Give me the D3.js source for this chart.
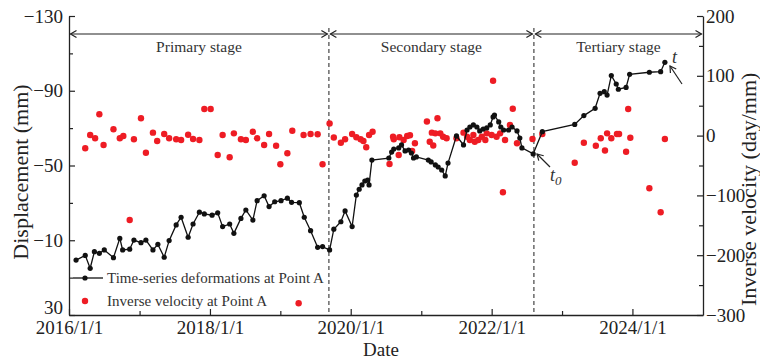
<!DOCTYPE html>
<head>
  <meta charset="utf-8">
  <script src="https://d3js.org/d3.v7.min.js"></script>
  <style>
    body { margin: 0; background: #fff; }
    svg { width: 760px; height: 360px; font-family: "Liberation Serif", "Times New Roman", serif; }
  </style>
</head>
<body>
  <svg></svg>
  <script>
    // time-series deformation at point A (decimal year, mm)
    var dispDates = [2016.10, 2016.23, 2016.30, 2016.36, 2016.43, 2016.50, 2016.63, 2016.72, 2016.76, 2016.86,
      2016.92, 2017.02, 2017.09, 2017.19, 2017.26, 2017.35, 2017.42, 2017.52, 2017.59, 2017.69,
      2017.76, 2017.85, 2017.92, 2018.03, 2018.11, 2018.18, 2018.28, 2018.34, 2018.44, 2018.51,
      2018.61, 2018.67, 2018.77, 2018.84, 2018.92, 2019.01, 2019.10, 2019.16, 2019.27, 2019.34,
      2019.43, 2019.53, 2019.60, 2019.70, 2019.76, 2019.86, 2019.92, 2020.02, 2020.08, 2020.12,
      2020.16, 2020.20, 2020.24, 2020.26, 2020.30, 2020.54, 2020.58, 2020.61, 2020.68, 2020.72,
      2020.77, 2020.82, 2020.86, 2020.89, 2020.93, 2021.10, 2021.14, 2021.20, 2021.24, 2021.29,
      2021.34, 2021.38, 2021.50, 2021.60, 2021.65, 2021.69, 2021.74, 2021.79, 2021.83, 2021.88,
      2021.93, 2021.98, 2022.02, 2022.04, 2022.10, 2022.13, 2022.17, 2022.24, 2022.29, 2022.36,
      2022.40, 2022.43, 2022.59, 2022.72, 2023.18, 2023.31, 2023.47, 2023.54, 2023.60, 2023.64,
      2023.70, 2023.77, 2023.80, 2023.91, 2023.96, 2024.24, 2024.40, 2024.46];
    var dispValues = [0.6, -1.9, 5.0, -3.9, -3.0, -4.8, -0.7, -11.0, -4.8, -5.2,
      -10.1, -8.7, -10.1, -4.8, -7.8, -0.9, -9.8, -18.2, -22.3, -11.6,
      -18.7, -25.0, -24.1, -23.4, -24.7, -17.3, -18.7, -13.7, -21.7, -26.2,
      -20.8, -31.2, -33.8, -28.0, -30.6, -31.2, -32.5, -30.3, -30.1, -22.3,
      -15.1, -6.2, -6.6, -4.8, -15.9, -19.9, -25.7, -17.3, -34.2, -37.3,
      -39.6, -41.7, -42.2, -39.6, -52.9, -54.0, -57.2, -58.8, -59.4, -61.0,
      -57.8, -58.3, -56.7, -54.0, -54.6, -52.9, -51.9, -50.3, -49.2, -47.6,
      -44.4, -51.3, -65.8, -61.0, -69.0, -70.6, -71.7, -70.6, -68.5, -69.5,
      -70.1, -71.7, -76.0, -77.0, -73.3, -70.6, -69.0, -69.0, -70.6, -68.5,
      -64.7, -59.4, -56.2, -68.1, -72.0, -76.7, -80.6, -88.6, -89.5, -87.7,
      -98.1, -93.6, -90.8, -91.8, -98.8, -99.9, -100.2, -105.2];

    // inverse velocity at point A (decimal year, day/mm)
    var velDates = [2016.23, 2016.30, 2016.37, 2016.43, 2016.49, 2016.63, 2016.72, 2016.77, 2016.86, 2016.92,
      2017.02, 2017.09, 2017.19, 2017.25, 2017.35, 2017.42, 2017.52, 2017.59, 2017.69, 2017.76,
      2017.85, 2017.92, 2018.01, 2018.11, 2018.18, 2018.28, 2018.34, 2018.44, 2018.51, 2018.61,
      2018.67, 2018.77, 2018.84, 2018.94, 2019.00, 2019.10, 2019.17, 2019.26, 2019.33, 2019.43,
      2019.53, 2019.60, 2019.70, 2019.76, 2019.86, 2019.92, 2020.02, 2020.08, 2020.14, 2020.18,
      2020.22, 2020.26, 2020.31, 2020.55, 2020.60, 2020.61, 2020.68, 2020.69, 2020.75, 2020.80,
      2020.84, 2020.87, 2020.91, 2021.08, 2021.12, 2021.15, 2021.17, 2021.20, 2021.23, 2021.27,
      2021.31, 2021.36, 2021.50, 2021.60, 2021.65, 2021.69, 2021.74, 2021.76, 2021.81, 2021.86,
      2021.91, 2021.93, 2022.00, 2022.02, 2022.07, 2022.12, 2022.16, 2022.19, 2022.26, 2022.30,
      2022.36, 2022.58, 2022.72, 2023.18, 2023.31, 2023.48, 2023.55, 2023.61, 2023.64, 2023.70,
      2023.78, 2023.81, 2023.91, 2023.94, 2023.97, 2024.24, 2024.40, 2024.46];
    var velValues = [-21.2, 1.0, -4.5, 35.6, -15.7, 10.5, -4.5, -0.7, -141.1, -6.2,
      28.9, -28.6, 4.9, -9.0, 2.7, -4.5, -6.2, -7.4, 1.5, -5.7,
      -7.4, 44.5, 44.5, -32.4, 1.0, -36.3, 3.8, -6.2, -7.4, 6.5,
      -4.5, -15.7, 2.7, -16.9, -48.0, -29.6, 8.2, -280.4, 1.0, 2.7,
      2.2, -48.0, 20.2, -3.2, -11.9, -6.2, 2.7, -2.8, -6.2, -9.0,
      -19.6, 1.0, 6.5, -47.5, -1.8, -6.2, -32.4, -2.8, -7.4, -0.7,
      0.5, -25.7, -12.9, 23.6, -10.2, 4.9, -16.6, 3.8, 28.9, 3.8,
      -1.8, -4.5, -4.5, 4.9, -1.8, -7.4, 1.0, -10.2, -7.4, -1.8,
      -7.4, 3.8, 1.0, 91.8, -1.8, 3.8, -94.8, -7.4, 17.7, 44.8,
      -12.9, -5.7, 2.7, -45.3, -11.9, -16.9, -4.5, -24.9, 3.8, -4.5,
      2.7, 2.7, -26.9, 44.5, -3.5, -88.1, -128.3, -5.7];

    var stageNames = ['Primary stage', 'Secondary stage', 'Tertiary stage'];
    var stageBounds = [2016.0, 2019.69, 2022.60, 2025.0];
    var xTickYears = [2016, 2018, 2020, 2022, 2024];
    var xTickLabels = ['2016/1/1', '2018/1/1', '2020/1/1', '2022/1/1', '2024/1/1'];
    var xMinorYears = [2017, 2019, 2021, 2023];
    var leftTicks = [-130, -90, -50, -10, 30];
    var leftMinor = [-110, -70, -30, 10];
    var rightTicks = [200, 100, 0, -100, -200, -300];
    var rightMinor = [150, 50, -50, -150, -250];

    function dec(y) {
      var yr = Math.floor(y);
      var a = new Date(yr, 0, 1), b = new Date(yr + 1, 0, 1);
      return new Date(+a + (y - yr) * (b - a));
    }

    var red = '#ee1c24';
    var svg = d3.select('svg');

    var x = d3.scaleTime().domain([dec(2016), dec(2025)]).range([69, 703]);
    var yL = d3.scaleLinear().domain([-130, 30]).range([16, 315]);
    var yR = d3.scaleLinear().domain([200, -300]).range([16, 315]);

    var defs = svg.append('defs');
    defs.append('marker').attr('id', 'head')
      .attr('viewBox', '-8 -5 10 10').attr('markerWidth', 10).attr('markerHeight', 10)
      .attr('markerUnits', 'userSpaceOnUse').attr('orient', 'auto-start-reverse')
      .append('path').attr('d', 'M-6,-3.5L0,0L-6,3.5')
      .attr('fill', 'none').attr('stroke', '#222').attr('stroke-width', 1.2);

    // axes
    function styleAxis(g, size) {
      g.selectAll('.domain').attr('stroke', '#222').attr('stroke-width', 1.3);
      g.selectAll('.tick line').attr('stroke', '#222').attr('stroke-width', 1.2);
      g.selectAll('text').attr('font-family', '"Liberation Serif", serif')
        .attr('font-size', size).attr('fill', '#222');
    }

    var gx = svg.append('g').attr('transform', 'translate(0,315)')
      .call(d3.axisBottom(x).tickValues(xTickYears.map(dec))
        .tickFormat(function(d, i) { return xTickLabels[i]; })
        .tickSizeInner(-6).tickSizeOuter(0).tickPadding(6));
    styleAxis(gx, 19);
    svg.append('g').attr('transform', 'translate(0,315)')
      .call(d3.axisBottom(x).tickValues(xMinorYears.map(dec)).tickFormat('')
        .tickSizeInner(-4).tickSizeOuter(0))
      .call(function(g) { g.select('.domain').remove(); styleAxis(g, 0); });

    var gl = svg.append('g').attr('transform', 'translate(69,0)')
      .call(d3.axisLeft(yL).tickValues(leftTicks).tickSizeInner(-6).tickSizeOuter(0).tickPadding(6));
    styleAxis(gl, 19);
    gl.selectAll('.tick text').attr('dy', function(d) { return d === 30 ? '-0.1em' : '0.32em'; });
    svg.append('g').attr('transform', 'translate(69,0)')
      .call(d3.axisLeft(yL).tickValues(leftMinor).tickFormat('').tickSizeInner(-4).tickSizeOuter(0))
      .call(function(g) { g.select('.domain').remove(); styleAxis(g, 0); });

    var gr = svg.append('g').attr('transform', 'translate(703,0)')
      .call(d3.axisRight(yR).tickValues(rightTicks).tickSizeInner(-6).tickSizeOuter(0).tickPadding(3));
    styleAxis(gr, 19);
    svg.append('g').attr('transform', 'translate(703,0)')
      .call(d3.axisRight(yR).tickValues(rightMinor).tickFormat('').tickSizeInner(-4).tickSizeOuter(0))
      .call(function(g) { g.select('.domain').remove(); styleAxis(g, 0); });

    // axis titles
    svg.append('text').attr('transform', 'translate(28,172)rotate(-90)')
      .attr('text-anchor', 'middle').attr('font-size', 22).attr('fill', '#222')
      .text('Displacement (mm)');
    svg.append('text').attr('transform', 'translate(740,306)rotate(-90)')
      .attr('text-anchor', 'start').attr('dy', '0.72em').attr('font-size', 22).attr('fill', '#222')
      .text('Inverse velocity (day/mm)');
    svg.append('text').attr('x', 381).attr('y', 355.5)
      .attr('text-anchor', 'middle').attr('font-size', 19).attr('fill', '#222')
      .text('Date');

    // stage separators and arrows
    svg.selectAll('line.sep').data(stageBounds.slice(1, 3)).enter().append('line')
      .attr('class', 'sep')
      .attr('x1', function(d) { return x(dec(d)); }).attr('x2', function(d) { return x(dec(d)); })
      .attr('y1', 28).attr('y2', 315)
      .attr('stroke', '#444').attr('stroke-width', 1.2).attr('stroke-dasharray', '4,3');

    var stages = stageNames.map(function(n, i) {
      return { name: n, a: stageBounds[i], b: stageBounds[i + 1] };
    });
    svg.selectAll('line.stage').data(stages).enter().append('line')
      .attr('class', 'stage')
      .attr('x1', function(d) { return x(dec(d.a)) + 1.5; })
      .attr('x2', function(d) { return x(dec(d.b)) - 1.5; })
      .attr('y1', 34).attr('y2', 34)
      .attr('stroke', '#222').attr('stroke-width', 1.2)
      .attr('marker-start', 'url(#head)').attr('marker-end', 'url(#head)');
    svg.selectAll('text.stage').data(stages).enter().append('text')
      .attr('class', 'stage')
      .attr('x', function(d) { return (x(dec(d.a)) + x(dec(d.b))) / 2; })
      .attr('y', 52).attr('text-anchor', 'middle')
      .attr('font-size', 15.5).attr('fill', '#333')
      .text(function(d) { return d.name; });

    // inverse velocity points
    var velData = velDates.map(function(d, i) { return { date: dec(d), v: velValues[i] }; });
    svg.append('g').selectAll('circle').data(velData).enter().append('circle')
      .attr('cx', function(d) { return x(d.date); })
      .attr('cy', function(d) { return yR(d.v); })
      .attr('r', 3.2).attr('fill', red);

    // deformation line
    var dispData = dispDates.map(function(d, i) { return { date: dec(d), v: dispValues[i] }; });
    svg.append('path').datum(dispData)
      .attr('fill', 'none').attr('stroke', '#111').attr('stroke-width', 1.3)
      .attr('d', d3.line().x(function(d) { return x(d.date); }).y(function(d) { return yL(d.v); }));
    svg.append('g').selectAll('circle').data(dispData).enter().append('circle')
      .attr('cx', function(d) { return x(d.date); })
      .attr('cy', function(d) { return yL(d.v); })
      .attr('r', 2.6).attr('fill', '#111');

    // annotations t0 and t
    svg.append('line').attr('x1', 550).attr('y1', 167).attr('x2', 537).attr('y2', 154)
      .attr('stroke', '#222').attr('stroke-width', 1.2).attr('marker-end', 'url(#head)');
    var t0 = svg.append('text').attr('x', 550).attr('y', 181)
      .attr('font-size', 18).attr('font-style', 'italic').attr('fill', '#333');
    t0.append('tspan').text('t');
    t0.append('tspan').attr('font-size', 13).attr('dy', 4).text('0');
    svg.append('line').attr('x1', 682).attr('y1', 84).attr('x2', 670).attr('y2', 66)
      .attr('stroke', '#222').attr('stroke-width', 1.2).attr('marker-end', 'url(#head)');
    svg.append('text').attr('x', 672).attr('y', 63)
      .attr('font-size', 18).attr('font-style', 'italic').attr('fill', '#333').text('t');

    // legend
    var lg = svg.append('g');
    lg.append('line').attr('x1', 73).attr('x2', 103).attr('y1', 278).attr('y2', 278)
      .attr('stroke', '#111').attr('stroke-width', 1.3);
    lg.append('circle').attr('cx', 85).attr('cy', 278).attr('r', 2.6).attr('fill', '#111');
    lg.append('text').attr('x', 107).attr('y', 283).attr('font-size', 15).attr('fill', '#333')
      .text('Time-series deformations at Point A');
    lg.append('circle').attr('cx', 85).attr('cy', 301).attr('r', 3.2).attr('fill', red);
    lg.append('text').attr('x', 107).attr('y', 306).attr('font-size', 15).attr('fill', '#333')
      .text('Inverse velocity at Point A');
  </script>
</body>
